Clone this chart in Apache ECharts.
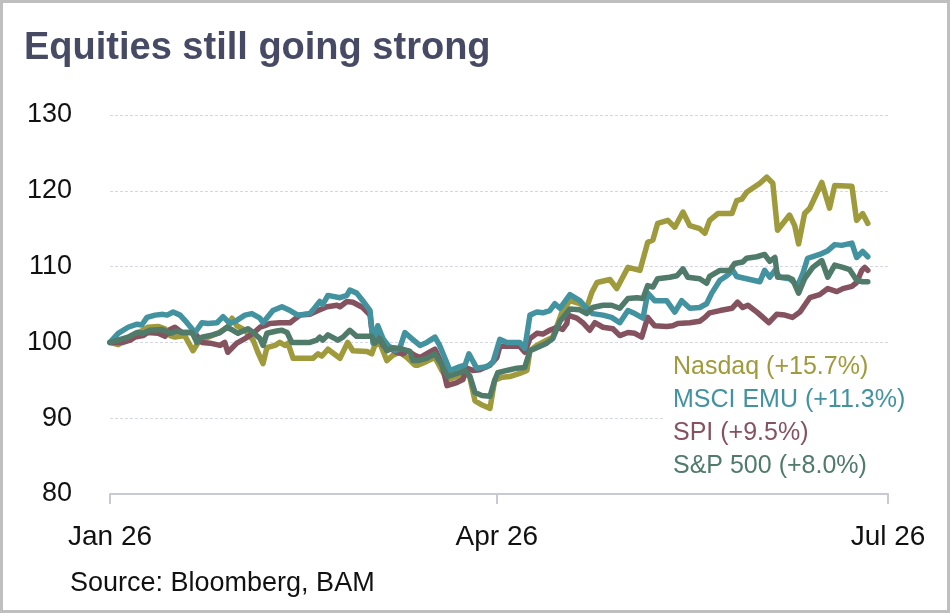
<!DOCTYPE html>
<html>
<head>
<meta charset="utf-8">
<script src="https://cdn.jsdelivr.net/npm/echarts@6/dist/echarts.min.js"></script>
<style>
    html, body { margin: 0; padding: 0; background: #fff; }
    #chart { width: 950px; height: 613px; }
</style>
</head>
<body>
<div id="chart"></div>
<script>
// x = calendar days since Jan 26, y = index (start = 100)
var tickDays = [0, 90, 181];
var tickLabels = ['Jan 26', 'Apr 26', 'Jul 26'];
var yTicks = [80, 90, 100, 110, 120, 130];

var seriesNames = ['Nasdaq', 'MSCI EMU', 'SPI', 'S&P 500'];
var legendLabels = ['Nasdaq (+15.7%)', 'MSCI EMU (+11.3%)', 'SPI (+9.5%)', 'S&P 500 (+8.0%)'];
var colors = ['#9f9a3b', '#4392a0', '#85525f', '#507b6b'];

var nasdaq = [
    [0, 100], [1.9, 99.7], [4.2, 100.5], [6.3, 101.2], [7.7, 101.6], [8.8, 102.0], [11.2, 102.1], [12.8, 101.8],
    [14.0, 100.9], [15.1, 100.7], [17.4, 100.9], [19.3, 98.9], [20.9, 100.3], [22.8, 100.7], [25.1, 101.2],
    [27.4, 102.0], [28.4, 103.2], [29.5, 102.2], [31.4, 101.6], [33.3, 100.3], [34.4, 98.7], [35.6, 97.2],
    [36.5, 99.3], [38.4, 99.6], [39.5, 100.0], [40.7, 99.6], [41.4, 99.9], [42.6, 97.9], [44.9, 97.9],
    [47.2, 97.9], [48.4, 98.5], [49.3, 98.2], [50.7, 99.1], [53.5, 97.9], [55.3, 100.0], [56.5, 98.9],
    [59.8, 98.8], [60.9, 98.5], [61.6, 99.6], [62.8, 99.9], [64.4, 97.6], [65.8, 98.3], [67.4, 98.7],
    [69.1, 98.0], [70.9, 97.0], [71.6, 97.0], [73.7, 97.5], [75.6, 98.0], [77.2, 96.3], [78.6, 95.1],
    [80.7, 95.5], [82.6, 96.0], [83.7, 95.4], [84.9, 92.3], [86.7, 91.7], [88.4, 91.3], [89.5, 95.0],
    [91.2, 95.4], [93.0, 95.5], [95.3, 95.9], [97.0, 96.3], [97.7, 98.9], [99.3, 99.6], [101.6, 100.3],
    [103.0, 100.7], [104.2, 102.5], [105.3, 104.2], [107.0, 105.5], [109.3, 105.1], [110.9, 104.6],
    [112.1, 106.6], [113.3, 107.9], [116.3, 108.3], [117.9, 107.1], [120.5, 109.9], [123.3, 109.5],
    [125.1, 113.2], [126.3, 113.5], [127.4, 115.7], [129.8, 116.1], [131.4, 115.2], [133.3, 117.2],
    [134.9, 115.4], [137.2, 115.0], [138.4, 114.4], [139.5, 116.1], [141.4, 117.0], [144.7, 117.0],
    [145.8, 118.7], [147.0, 118.9], [148.1, 119.8], [151.2, 121.0], [152.8, 121.8], [154.2, 121.0],
    [155.3, 114.8], [158.1, 116.8], [159.3, 115.4], [160.2, 113.0], [161.6, 117.0], [162.8, 117.7],
    [165.6, 121.1], [167.4, 117.7], [168.6, 120.7], [172.6, 120.6], [173.7, 116.1], [175.1, 117.0],
    [176.3, 115.7]
];

var msciEmu = [
    [0, 100], [1.9, 101.2], [4.2, 102.0], [6.3, 102.4], [7.4, 102.3], [8.6, 103.3], [10.5, 103.6],
    [12.3, 103.7], [13.3, 103.6], [14.7, 104.0], [16.3, 103.6], [17.9, 102.6], [19.8, 101.3], [21.4, 102.6],
    [22.8, 102.5], [24.9, 102.6], [26.3, 103.4], [27.9, 102.5], [29.5, 102.9], [31.4, 103.6], [33.0, 103.8],
    [34.9, 103.2], [35.6, 102.6], [37.9, 104.2], [40.0, 104.7], [41.9, 104.2], [43.7, 103.6], [46.5, 103.8],
    [47.7, 104.6], [48.8, 105.4], [49.5, 105.0], [50.7, 106.2], [53.5, 105.9], [55.1, 106.2], [55.8, 106.9],
    [57.4, 106.5], [58.8, 105.5], [60.5, 104.2], [61.2, 99.9], [62.3, 102.2], [63.5, 100.5], [64.7, 99.6],
    [66.3, 98.9], [67.4, 99.2], [68.6, 101.3], [70.2, 100.5], [72.1, 99.6], [73.7, 100.0], [75.6, 100.7],
    [76.7, 99.6], [79.1, 96.3], [81.4, 96.8], [82.6, 97.0], [83.5, 98.5], [85.3, 96.6], [87.7, 96.8],
    [89.1, 97.4], [90.7, 100.4], [92.3, 100.0], [95.3, 100.0], [96.5, 99.2], [97.7, 103.6], [99.3, 104.0],
    [100.7, 103.9], [102.3, 104.2], [103.5, 105.1], [104.7, 104.5], [107.0, 106.3], [109.3, 105.5],
    [110.9, 104.5], [112.3, 103.8], [114.7, 103.6], [116.7, 103.3], [118.6, 102.6], [120.5, 104.2],
    [122.1, 103.8], [124.0, 103.2], [125.1, 106.5], [126.7, 105.5], [129.5, 105.5], [131.4, 104.0],
    [133.0, 105.5], [134.9, 104.5], [137.2, 104.6], [138.8, 105.1], [140.0, 106.5], [141.9, 108.2],
    [143.5, 108.8], [144.9, 109.5], [145.8, 108.7], [148.1, 108.4], [151.2, 108.0], [152.3, 109.5],
    [153.5, 108.6], [154.7, 109.5], [155.8, 108.6], [158.1, 108.4], [160.0, 107.5], [161.2, 109.1],
    [162.3, 111.1], [165.1, 111.6], [167.0, 112.1], [168.6, 112.9], [170.2, 112.8], [172.6, 113.1],
    [173.7, 111.2], [175.1, 112.0], [176.3, 111.3]
];

var spi = [
    [0, 100], [3.0, 100.0], [4.7, 100.3], [5.8, 100.7], [7.7, 100.9], [8.8, 101.3], [11.2, 101.2],
    [12.8, 100.8], [14.0, 101.7], [15.1, 102.0], [16.7, 101.3], [18.6, 101.3], [19.8, 101.2], [21.4, 100.0],
    [23.3, 99.9], [25.6, 99.6], [26.7, 100.0], [27.4, 98.7], [29.5, 99.9], [31.4, 100.5], [33.3, 101.2],
    [34.9, 102.0], [36.0, 102.2], [37.2, 102.5], [39.5, 102.6], [41.9, 102.6], [42.6, 102.9], [44.2, 103.6],
    [46.5, 103.7], [48.4, 104.2], [50.5, 104.7], [52.8, 104.9], [53.5, 104.7], [55.1, 105.4], [56.5, 105.3],
    [58.8, 104.6], [60.5, 103.6], [61.2, 100.3], [62.3, 101.2], [63.5, 99.6], [65.1, 99.2], [66.7, 98.7],
    [68.1, 98.5], [69.3, 98.9], [70.9, 98.3], [72.1, 98.0], [73.7, 98.5], [75.6, 99.1], [77.2, 97.2],
    [78.4, 94.3], [80.7, 94.7], [82.1, 95.1], [83.0, 96.6], [84.4, 96.3], [86.0, 96.4], [88.4, 97.0],
    [90.0, 98.0], [90.7, 99.5], [93.0, 99.5], [95.3, 99.5], [96.5, 98.7], [97.7, 100.5], [99.3, 101.2],
    [100.7, 101.1], [102.3, 101.6], [104.0, 102.0], [105.3, 101.7], [106.3, 102.5], [106.5, 103.6],
    [108.6, 103.2], [110.0, 102.6], [111.6, 101.6], [112.8, 102.6], [114.7, 102.0], [117.0, 101.8],
    [118.6, 100.9], [120.5, 101.3], [122.1, 101.2], [123.7, 100.7], [125.1, 103.3], [126.7, 102.2],
    [129.5, 102.1], [130.9, 102.2], [132.1, 102.5], [134.9, 102.6], [137.2, 102.8], [138.4, 103.3],
    [139.5, 103.9], [141.9, 104.2], [144.7, 104.5], [146.0, 105.3], [147.2, 104.6], [148.4, 104.9],
    [150.5, 104.0], [151.9, 103.3], [153.3, 102.6], [155.1, 103.7], [157.0, 103.6], [158.8, 103.3],
    [160.5, 104.0], [161.6, 104.9], [162.8, 105.9], [165.1, 106.3], [167.0, 107.1], [169.1, 106.7],
    [170.5, 107.1], [172.6, 107.4], [173.7, 107.9], [174.9, 109.5], [175.6, 109.9], [176.3, 109.5]
];

var sp500 = [
    [0, 100], [1.3, 100.2], [4.2, 100.7], [6.3, 101.3], [7.7, 101.2], [9.3, 101.6], [12.1, 101.7],
    [14.0, 101.2], [15.6, 101.5], [17.0, 101.3], [19.1, 101.3], [20.2, 100.0], [21.4, 100.7], [23.3, 100.9],
    [25.6, 101.3], [27.2, 102.0], [28.6, 101.6], [29.8, 101.2], [32.1, 101.8], [33.3, 101.3], [34.9, 100.5],
    [35.6, 99.6], [36.5, 101.2], [38.8, 101.5], [40.0, 101.6], [41.2, 101.3], [42.3, 100.0], [44.2, 100.0],
    [46.5, 100.0], [48.1, 100.3], [48.8, 100.7], [49.5, 100.3], [50.7, 101.0], [53.0, 100.3], [54.2, 100.7],
    [55.8, 101.6], [57.4, 100.8], [60.9, 100.8], [61.6, 99.9], [62.8, 100.5], [64.4, 98.9], [65.8, 99.3],
    [67.4, 99.2], [69.8, 98.8], [70.5, 97.6], [71.6, 97.6], [73.7, 97.9], [75.6, 98.5], [77.2, 97.0],
    [78.6, 95.5], [80.7, 95.9], [82.6, 96.3], [83.7, 95.6], [84.9, 93.4], [86.5, 93.0], [88.4, 92.9],
    [89.5, 95.0], [90.2, 96.0], [92.3, 96.3], [94.7, 96.6], [96.5, 96.7], [97.7, 98.9], [99.3, 99.3],
    [101.6, 99.9], [103.0, 100.5], [104.7, 102.8], [107.0, 104.4], [109.3, 104.3], [110.9, 103.8],
    [112.3, 104.6], [114.7, 104.9], [116.7, 104.9], [118.6, 104.5], [120.5, 105.8], [122.6, 105.9],
    [124.0, 105.8], [125.1, 107.5], [126.3, 107.3], [127.4, 108.4], [130.2, 108.6], [131.9, 108.8],
    [133.3, 109.7], [134.4, 108.6], [137.2, 108.4], [138.8, 107.8], [139.5, 108.7], [141.9, 109.5],
    [144.2, 109.5], [145.3, 110.4], [147.2, 110.6], [148.1, 111.1], [150.5, 111.3], [152.3, 111.6],
    [153.5, 110.7], [154.7, 111.2], [155.3, 108.6], [157.7, 108.6], [158.8, 108.3], [160.2, 106.5],
    [161.6, 108.4], [163.5, 109.9], [165.6, 110.8], [167.0, 108.6], [168.6, 110.2], [170.5, 109.9],
    [172.1, 109.6], [173.7, 108.2], [175.1, 108.0], [176.3, 108.0]
];

var seriesData = [nasdaq, msciEmu, spi, sp500];
// drawing order: last one ends up on top
var drawOrder = [0, 2, 1, 3];

var font = 'Liberation Sans, Arial, sans-serif';
var chart = echarts.init(document.getElementById('chart'), null, { renderer: 'canvas' });

var series = [];
drawOrder.forEach(function (i) {
    series.push({
        name: seriesNames[i],
        type: 'line',
        data: seriesData[i],
        showSymbol: false,
        symbol: 'none',
        smooth: false,
        animation: false,
        lineStyle: { color: colors[i], width: 5.5, join: 'round', cap: 'round' },
        itemStyle: { color: colors[i] }
    });
});

var legendData = [];
seriesNames.forEach(function (name, i) {
    legendData.push({ name: name, icon: 'none', textStyle: { color: colors[i] } });
});

var option = {
    backgroundColor: '#fff',
    animation: false,
    title: [
        {
            text: 'Equities still going strong',
            left: 19,
            top: 25,
            textStyle: { fontFamily: font, fontSize: 38, fontWeight: 'bold', color: '#464a64' }
        },
        {
            text: 'Source: Bloomberg, BAM',
            left: 65,
            top: 565,
            textStyle: { fontFamily: font, fontSize: 27, fontWeight: 'normal', color: '#111' }
        }
    ],
    legend: {
        orient: 'vertical',
        left: 663,
        top: 350,
        padding: 5,
        itemGap: 8,
        itemWidth: 0,
        itemHeight: 10,
        selectedMode: false,
        backgroundColor: '#fff',
        formatter: function (name) {
            return legendLabels[seriesNames.indexOf(name)];
        },
        textStyle: { fontFamily: font, fontSize: 25 },
        data: legendData
    },
    grid: { left: 110, right: 62, top: 115, bottom: 119 },
    xAxis: {
        type: 'value',
        min: tickDays[0],
        max: tickDays[tickDays.length - 1],
        splitLine: { show: false },
        axisLine: { show: true, lineStyle: { color: '#c9c9d4', width: 2 } },
        axisTick: { show: true, customValues: tickDays, length: 10, lineStyle: { color: '#c9c9d4', width: 2 } },
        axisLabel: {
            customValues: tickDays,
            margin: 29,
            fontFamily: font,
            fontSize: 28,
            color: '#111',
            formatter: function (v) {
                return tickLabels[tickDays.indexOf(v)];
            }
        }
    },
    yAxis: {
        type: 'value',
        min: yTicks[0],
        max: yTicks[yTicks.length - 1],
        interval: 10,
        axisLine: { show: false },
        axisTick: { show: false },
        axisLabel: { margin: 38, fontFamily: font, fontSize: 27, color: '#111' },
        splitLine: { show: true, lineStyle: { color: '#d6d6e4', width: 1, type: [3, 2] } }
    },
    graphic: [
        {
            type: 'rect',
            silent: true,
            z: 100,
            shape: { x: 1.5, y: 1.5, width: 947, height: 610 },
            style: { fill: 'none', stroke: '#bfbfbf', lineWidth: 3 }
        }
    ],
    series: series
};

chart.setOption(option);
</script>
</body>
</html>
